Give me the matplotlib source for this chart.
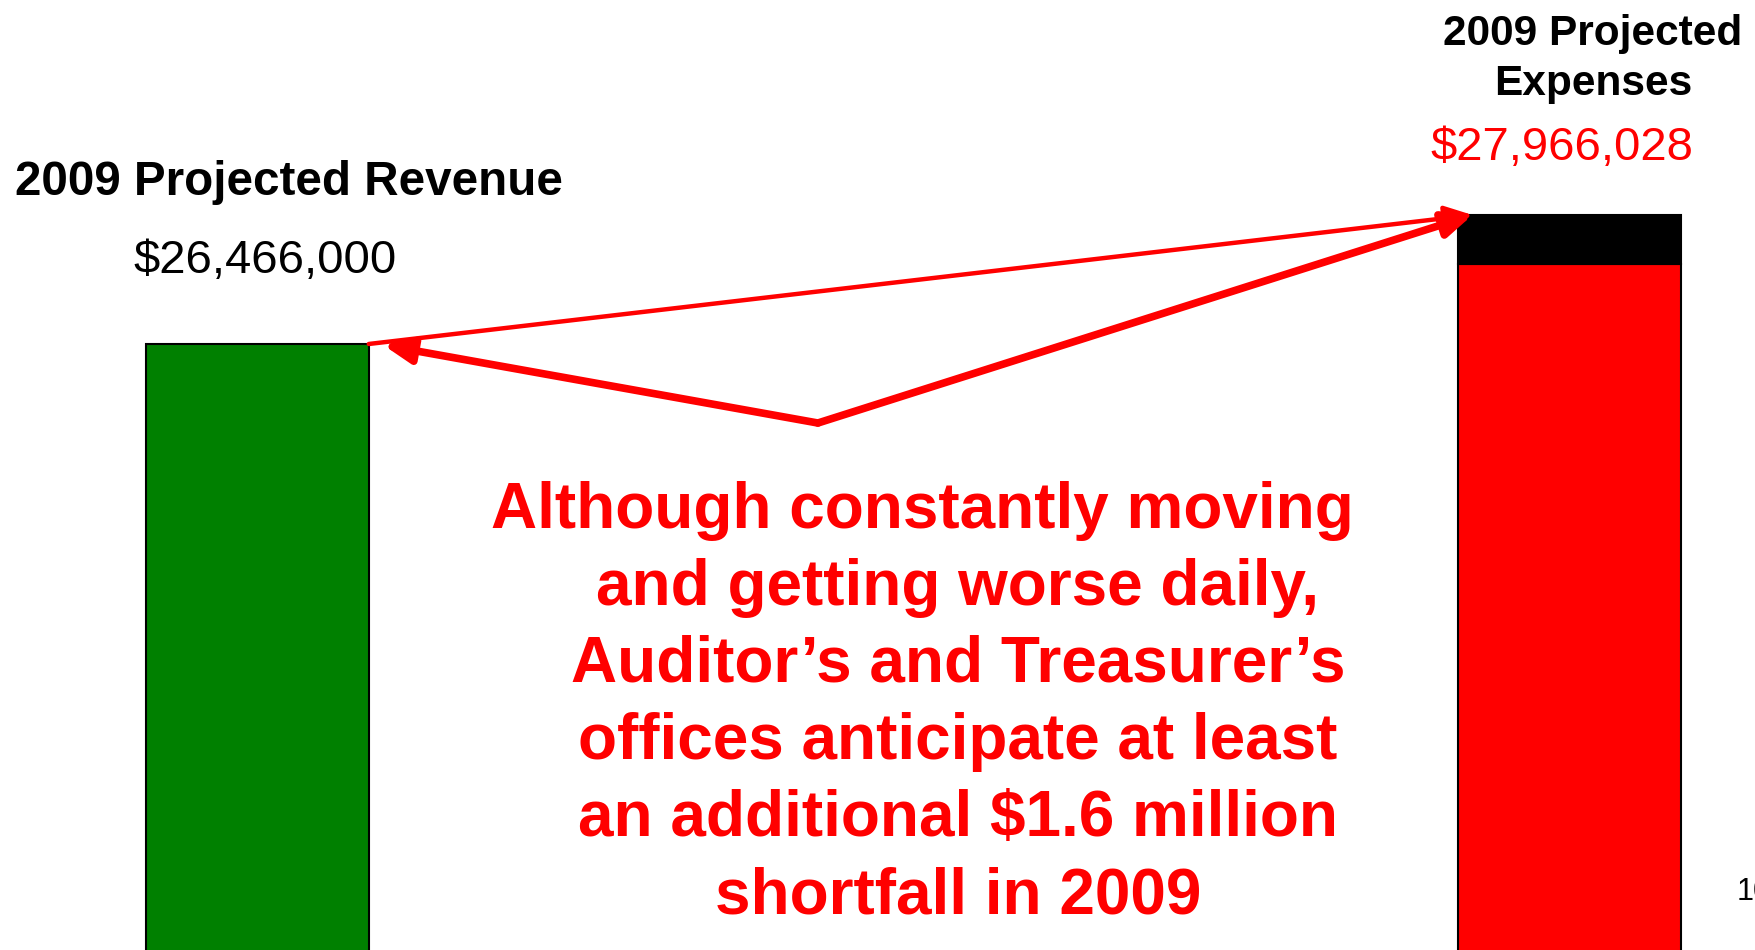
import matplotlib.pyplot as plt

plt.rcParams['font.family'] = ['Liberation Sans', 'DejaVu Sans']

# Datos
categorias = ["2009 Projected Revenue", "2009 Projected\nExpenses"]
ingresos = 26466000
gastos = 27966028
gastos_base = 27400000  # parte roja estimada, el resto es la franja negra
etiquetas = ["$26,466,000", "$27,966,028"]
mensaje = [
    "Although constantly moving",
    "and getting worse daily,",
    "Auditor\u2019s and Treasurer\u2019s",
    "offices anticipate at least",
    "an additional $1.6 million",
    "shortfall in 2009",
]
pagina = "10"

W, H = 1756, 950


def fx(px):
    return px / W


def fy(py):
    return 1 - py / H


fig = plt.figure(figsize=(17.56, 9.5), dpi=100)
ax = fig.add_axes([0, 0, 1, 1])
ax.axis('off')

ancho = 0.17
ax.bar(0, ingresos, width=ancho, color="#008000", edgecolor="black", linewidth=1.5)
ax.bar(1, gastos_base, width=ancho, color="#ff0000", edgecolor="black", linewidth=1.5)
ax.bar(1, gastos - gastos_base, bottom=gastos_base, width=ancho, color="black",
       edgecolor="black", linewidth=1.5)

ax.set_xlim(-0.196, 1.142)
ax.set_ylim(19419000, 30466000)

# Flechas
punta_verde = (ancho / 2, ingresos)
punta_roja = (1 - ancho / 2 + 0.011, gastos)
origen = (0.4272, 25547000)

estilo = dict(arrowstyle="-|>,head_length=0.85,head_width=0.38", color="#ff0000",
              shrinkA=0, shrinkB=0, mutation_scale=20)
ax.annotate("", xy=punta_roja, xytext=punta_verde,
            arrowprops=dict(estilo, linewidth=3.2))
ax.annotate("", xy=(ancho / 2 + 0.011, ingresos - 12000), xytext=origen,
            arrowprops=dict(estilo, linewidth=5.5))
ax.annotate("", xy=punta_roja, xytext=origen,
            arrowprops=dict(estilo, linewidth=5.5))

# Titulos y valores
fig.text(fx(289), fy(195), categorias[0], ha="center", va="baseline",
         fontsize=34.3, fontweight="bold", color="black")
fig.text(fx(265), fy(273), etiquetas[0], ha="center", va="baseline",
         fontsize=34, color="black")
fig.text(fx(1593), fy(95), categorias[1], ha="center", va="baseline",
         fontsize=30.5, fontweight="bold", color="black", linespacing=1.32)
fig.text(fx(1562), fy(160), etiquetas[1], ha="center", va="baseline",
         fontsize=34, color="#ff0000")

# Mensaje central
for i, linea in enumerate(mensaje):
    x = 922 if i == 0 else 958
    fig.text(fx(x), fy(528 + 77 * i), linea, ha="center", va="baseline",
             fontsize=46, fontweight="bold", color="#ff0000")

fig.text(fx(1737), fy(900), pagina, ha="left", va="baseline", fontsize=22)

plt.savefig("out.png", dpi=100)
